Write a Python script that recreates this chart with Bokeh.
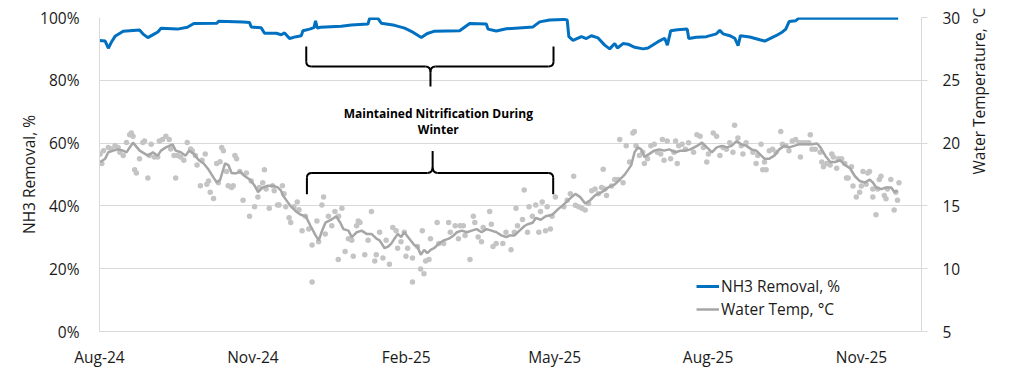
import math
import pandas as pd
from bokeh.plotting import figure
from bokeh.models import (Range1d, LinearAxis, FixedTicker, DatetimeTickFormatter, Legend,
                          LegendItem, BoxAnnotation)
from bokeh.core.properties import value
from bokeh.embed import file_html
from bokeh.resources import INLINE

# ---------------- data ----------------
START_DATE = "2024-08-01"          # day 0 of all day offsets below
X_END_DAY = 493                    # right end of the date axis (days after start)

x_tick_dates = ["2024-08-01", "2024-11-01", "2025-02-01", "2025-05-01", "2025-08-01", "2025-11-01"]
left_ticks = [0, 20, 40, 60, 80, 100]
left_tick_labels = ["0%", "20%", "40%", "60%", "80%", "100%"]
right_ticks = [5, 10, 15, 20, 25, 30]

# NH3 removal, % (days after START_DATE)
blue_days = [0, 3.4, 5.3, 7.3, 9.3, 14.2, 24, 26, 29, 33,
             35, 36.9, 46.7, 52.7, 56.6, 70.4, 71.4, 86, 90, 91,
             97, 99, 106, 109, 111, 114, 118, 121, 122, 126,
             128.6, 129.6, 130.6, 132.5, 145, 151, 161, 162, 167, 169,
             177, 183, 187, 193, 196.6, 200.6, 216, 222, 232, 233,
             238, 244, 260, 264, 270, 278.5, 280.5, 281.5, 284, 289,
             292, 295, 299, 303, 306, 309, 310.6, 314, 317, 321,
             326, 329, 335, 339, 340.6, 342.6, 346.6, 352.5, 353.4, 358,
             364, 370, 372, 374, 378, 381, 383, 384.4, 390, 396,
             399, 405.7, 409.6, 411.6, 413.6, 417.6, 419.5, 479]
blue_pct = [92.7, 92.5, 90.2, 92.3, 94.0, 95.6, 96.0, 94.8, 93.6, 94.8,
            95.4, 96.6, 96.3, 96.9, 98.1, 98.2, 98.8, 98.6, 98.4, 97.0,
            96.7, 95.0, 95.0, 94.5, 95.1, 93.3, 93.9, 94.2, 95.8, 96.3,
            96.8, 98.9, 96.6, 96.9, 97.2, 97.6, 97.9, 99.7, 99.7, 98.2,
            97.5, 96.6, 95.6, 93.6, 94.9, 95.6, 95.8, 98.1, 97.9, 96.3,
            95.7, 96.4, 97.0, 98.6, 99.2, 99.4, 99.2, 93.9, 92.7, 93.9,
            93.3, 94.2, 93.5, 91.2, 90.0, 91.7, 90.3, 91.7, 91.5, 90.5,
            90.0, 90.3, 92.3, 93.4, 91.2, 95.8, 96.1, 96.3, 93.3, 93.7,
            93.9, 94.8, 95.9, 94.8, 94.2, 93.4, 91.0, 94.2, 93.8, 92.9,
            92.5, 94.2, 95.4, 96.3, 98.7, 99.0, 99.8, 99.8]

# Water temperature, moving average (degC)
temp_avg_days = [0.4, 3.4, 5.3, 8.3, 11.2, 14.2, 16.2, 20.1, 24.1, 29,
                 32, 34.9, 36.9, 39.8, 43.8, 45.7, 48.7, 51.7, 53.7, 56.6,
                 59.6, 62.5, 65.5, 68.5, 70.4, 72.4, 75.3, 77.3, 79.3, 82.2,
                 84.2, 87.2, 90.1, 93.1, 95.1, 98, 101, 104, 106.9, 108.9,
                 109.9, 112.8, 114.8, 117.8, 120.7, 123.7, 126.6, 129.6, 131.5, 133.5,
                 135.5, 139, 142, 144.4, 146.3, 149.3, 151.3, 154.3, 157.2, 160.2,
                 163.1, 166.1, 168, 171, 173, 175, 176.9, 178.9, 180.9, 182.8,
                 185.8, 188.8, 190.7, 192.7, 194.7, 196.6, 198.6, 200.6, 203.6, 206.5,
                 209.5, 212.4, 214.4, 217.3, 220.3, 223.3, 226.2, 229.2, 232.1, 235.1,
                 238.1, 241, 244, 246, 248.9, 251.9, 254.9, 256.8, 259.8, 261.7,
                 264.7, 267.6, 271.6, 274.6, 277.5, 281.5, 285.4, 288.3, 291.3, 294.3,
                 297.2, 301.2, 305.1, 309.1, 312, 315, 317, 318.9, 320.9, 322.9,
                 324.9, 326.8, 329.8, 332.7, 335.7, 338.6, 341.6, 345.6, 348.5, 351.5,
                 354.4, 358.4, 361.4, 364.3, 367.3, 370.2, 373.2, 376.2, 379.1, 382.1,
                 385, 388, 391, 393.9, 398.8, 401.8, 404.7, 407.7, 410.7, 413.6,
                 416.6, 419.5, 423.5, 427.4, 430.4, 432.4, 435.3, 438.3, 441.2, 444.2,
                 447.2, 450.1, 453.1, 456, 459, 462, 463.9, 465.9, 468.8, 471.8,
                 474.8, 476.8, 478.7]
temp_avg = [18.5, 18.76, 19.27, 19.4, 19.5, 19.4, 19.27, 20.04, 19.4, 19.0,
            19.27, 19.0, 19.4, 19.66, 19.9, 19.4, 19.27, 19.0, 19.4, 19.14,
            18.63, 18.38, 17.87, 17.23, 16.85, 17.1, 18.38, 18.25, 17.6, 17.6,
            17.74, 17.36, 17.1, 16.6, 16.1, 16.47, 16.6, 16.6, 16.47, 16.22,
            15.85, 15.32, 14.96, 14.56, 14.3, 14.17, 13.4, 12.65, 12.26, 13.03,
            13.66, 13.9, 14.17, 13.66, 13.15, 13.03, 12.52, 12.9, 13.03, 12.77,
            12.77, 12.39, 12.26, 11.63, 11.75, 12.0, 12.39, 12.77, 12.52, 12.9,
            12.39, 11.88, 11.75, 11.11, 11.5, 11.24, 11.5, 11.63, 12.0, 12.26,
            12.39, 12.65, 12.9, 13.03, 12.9, 13.03, 13.15, 12.9, 13.15, 13.03,
            12.9, 12.65, 12.52, 12.65, 12.65, 13.03, 13.4, 13.54, 13.66, 14.04,
            13.9, 14.17, 14.3, 14.69, 15.0, 15.5, 15.96, 15.7, 15.19, 15.45,
            15.83, 16.09, 16.47, 16.72, 17.1, 17.49, 17.87, 18.25, 19.27, 19.66,
            19.5, 18.9, 19.14, 19.4, 19.5, 19.4, 19.5, 19.27, 19.4, 19.4,
            19.5, 19.78, 20.04, 19.66, 19.27, 19.66, 19.78, 19.66, 19.78, 20.16,
            19.9, 19.78, 19.5, 19.4, 18.76, 18.76, 19.0, 19.5, 19.78, 19.66,
            19.78, 19.9, 19.9, 19.9, 19.97, 19.66, 19.0, 18.5, 18.5, 18.63,
            18.25, 18.0, 17.36, 16.98, 16.85, 17.1, 16.85, 16.47, 16.34, 16.47,
            16.47, 16.1, 16.22]

# Water temperature, daily readings (degC)
temp_pt_days = [0.4, 1.4, 2.4, 5.3, 7.3, 9.3, 11.2, 12.2, 14.2, 16.2,
                18.1, 19.1, 20.1, 21.1, 22.1, 24, 26, 27, 29, 30,
                31, 32.9, 34.9, 35.9, 37.8, 39.8, 41.8, 42.7, 44.7, 45.7,
                46.7, 48.7, 50.6, 52.6, 54.6, 55.6, 57.5, 58.5, 60.5, 61.5,
                63.4, 64.4, 65.4, 66.4, 68.4, 70.3, 71.3, 72.3, 73.3, 74.3,
                76.2, 77.2, 79.2, 80.2, 81.2, 82.2, 84.1, 86.1, 88.1, 90,
                91, 93, 95, 95.9, 97.9, 98.9, 99.9, 101.8, 103.8, 104.8,
                106.8, 107.7, 109.7, 110.7, 111.7, 113.7, 114.7, 116.6, 118.6, 119.6,
                121.5, 123.5, 125.5, 127.5, 127.5, 130.4, 131.4, 133.4, 134.4, 135.4,
                137.3, 139.3, 141.2, 143.2, 143.4, 145.4, 147.3, 149.3, 151.3, 152.2,
                154.2, 155.2, 156.2, 159.1, 161.1, 163.1, 165.1, 166, 168, 170,
                171.9, 173.9, 175.9, 177.9, 178.8, 180.8, 182.8, 183.8, 184.8, 187.7,
                187.7, 190.7, 192.6, 193.6, 194.6, 195.6, 197.6, 198.5, 202.5, 203.5,
                206.4, 209.4, 210.4, 213.3, 215.3, 216.3, 218.2, 219.2, 222.2, 224.2,
                225.1, 227.1, 229.1, 230.1, 234, 235, 236, 237.9, 241.9, 243.8,
                246.8, 248.8, 250.7, 249.8, 253.7, 254.7, 256.7, 257.6, 259.6, 261.6,
                263.5, 264.5, 265.5, 267.5, 268.5, 270.4, 271.4, 273.4, 278.5, 280.5,
                282.4, 284.4, 285.4, 287.4, 289.3, 291.3, 293.3, 295.2, 297.2, 299.2,
                301.1, 302.1, 303.1, 304.1, 307.1, 309, 311, 312, 314, 315.9,
                317.9, 319.9, 320.8, 321.8, 323.8, 325.8, 326.8, 328.7, 330.7, 332.7,
                334.6, 336.6, 337.6, 338.6, 340.5, 342.5, 344.5, 345.5, 346.5, 347.4,
                349.4, 351.4, 353.3, 356.3, 358.3, 360.2, 362.2, 364.2, 365.2, 368.1,
                370.1, 372.1, 374, 376, 378, 379.9, 380.9, 382.9, 384.9, 385.9,
                387.8, 391.9, 393.8, 394.8, 396.8, 397.8, 398.8, 399.8, 401.7, 403.7,
                405.7, 408.6, 409.6, 411.6, 413.5, 415.5, 417.5, 419.5, 420.4, 421.4,
                423.4, 425.4, 426.3, 427.3, 429.3, 432.3, 433.2, 434.2, 436.2, 438.2,
                439.2, 440.1, 442.1, 443.1, 445.1, 447, 448, 449, 451, 451.9,
                453.9, 455.9, 456.9, 457.9, 459.8, 460.8, 461.8, 463.8, 463.8, 465.7,
                466.7, 467.7, 468.7, 470.7, 471.7, 472.6, 474.6, 476.6, 477.6, 478.6,
                479.5]
temp_pts = [19.14, 18.38, 19.4, 19.65, 19.53, 19.78, 19.65, 19.27, 19.02, 20.04,
            20.67, 20.8, 20.55, 17.87, 17.62, 18.76, 20.04, 20.16, 17.23, 19.02,
            19.91, 18.89, 18.89, 20.16, 20.29, 20.55, 20.29, 19.53, 19.02, 17.23,
            19.02, 18.89, 18.63, 20.04, 19.53, 19.4, 19.02, 18.25, 16.6, 18.63,
            19.14, 16.72, 16.98, 16.09, 15.58, 18.38, 16.85, 18.51, 19.65, 19.4,
            17.74, 16.6, 16.47, 16.6, 19.02, 18.76, 17.74, 15.45, 17.62, 14.18,
            16.98, 14.94, 15.7, 16.47, 16.85, 17.87, 16.34, 14.81, 16.6, 16.21,
            15.07, 15.07, 16.6, 15.96, 14.94, 14.05, 13.67, 14.94, 15.32, 14.69,
            13.03, 14.18, 13.16, 11.88, 8.95, 13.79, 12.14, 15.07, 15.7, 12.77,
            14.18, 13.41, 14.56, 10.74, 14.18, 14.81, 11.37, 12.39, 12.27, 10.99,
            13.41, 13.79, 13.67, 11.12, 12.27, 14.56, 10.61, 11.12, 12.9, 10.86,
            12.27, 10.35, 13.28, 13.03, 11.63, 12.14, 12.9, 10.99, 11.63, 10.86,
            8.95, 11.76, 9.97, 13.03, 9.59, 10.61, 10.74, 12.39, 13.67, 12.01,
            12.01, 13.67, 12.9, 13.41, 12.39, 13.41, 13.41, 12.65, 10.74, 14.18,
            13.67, 12.52, 12.14, 13.28, 14.56, 13.54, 11.76, 12.01, 12.01, 12.9,
            11.5, 12.9, 13.41, 14.81, 13.92, 16.27, 12.9, 14.94, 14.18, 15.07,
            12.9, 14.56, 15.32, 13.03, 14.94, 13.16, 14.18, 15.7, 14.94, 15.45,
            15.96, 17.36, 15.06, 14.94, 14.81, 14.68, 15.19, 16.21, 16.34, 15.96,
            16.46, 17.92, 16.34, 15.83, 16.59, 17.1, 17.1, 20.29, 16.85, 19.78,
            18.5, 20.8, 20.92, 19.78, 19.01, 19.27, 18.38, 18.76, 19.78, 19.9,
            19.27, 19.14, 20.29, 18.63, 20.16, 18.76, 19.27, 20.16, 18.38, 19.78,
            19.9, 19.52, 20.03, 19.27, 20.67, 20.54, 19.65, 18.5, 19.14, 20.8,
            20.54, 19.01, 19.65, 19.52, 20.03, 19.27, 21.43, 20.41, 19.78, 19.14,
            20.03, 19.27, 18.38, 19.01, 19.9, 17.87, 18.5, 17.87, 19.4, 19.52,
            19.27, 20.92, 19.9, 19.78, 19.4, 20.16, 20.29, 20.03, 18.89, 20.03,
            20.03, 20.03, 20.67, 19.52, 19.52, 19.27, 18.5, 18.12, 18.38, 18.25,
            19.14, 18.89, 17.99, 18.76, 18.76, 18.38, 17.23, 17.23, 18.12, 16.59,
            15.7, 16.08, 16.59, 17.74, 16.72, 17.61, 17.74, 16.34, 15.7, 14.3,
            16.34, 17.1, 17.36, 15.83, 15.57, 16.34, 17.1, 14.68, 16.08, 15.45,
            16.85]

series_labels = ["NH3 Removal, %", "Water Temp, °C"]
left_title = "NH3 Removal, %"
right_title = "Water Temperature, °C"
annotation_lines = ["Maintained Nitrification During", "Winter"]
annotation_day = 203.2
annotation_y = [69.4, 64.2]          # in % (left axis)

# braces: (left day, right day, middle day, end y, bar y, tip y)  in left-axis %
braces = [(124.0, 272.3, 198.5, 90.8, 84.4, 78.0),
          (124.4, 272.1, 199.8, 43.7, 50.5, 57.5)]

# ---------------- helpers ----------------
DAY_MS = 86400000.0
BASE_MS = pd.Timestamp(START_DATE).value / 1e6


def to_ms(days):
    return [BASE_MS + d * DAY_MS for d in days]


BLUE = "#0070C0"
GRAY_LINE = "#A6A6A6"
GRAY_DOT = "#C4C4C4"
GRID = "#D9D9D9"
TXT = "#1A1A1A"
FONT = "Open Sans"
FS = "15.5px"
W, H = 1008, 374

p = figure(width=W, height=H, x_axis_type="datetime",
           x_range=Range1d(BASE_MS, BASE_MS + X_END_DAY * DAY_MS),
           y_range=Range1d(0, 100),
           output_backend="svg", toolbar_location=None,
           min_border_left=99, min_border_right=87, min_border_top=17, min_border_bottom=43)
p.outline_line_color = None
p.extra_y_ranges = {"temp": Range1d(5, 30)}

# outer chart border
p.add_layout(BoxAnnotation(left=1, right=W - 1, top=1, bottom=H - 1,
                           left_units="canvas", right_units="canvas",
                           top_units="canvas", bottom_units="canvas",
                           fill_alpha=0, line_color="#5E5E5E", line_width=2,
                           editable=False))

# grid
p.xgrid.visible = False
p.ygrid.ticker = FixedTicker(ticks=left_ticks)
p.ygrid.grid_line_color = GRID
p.ygrid.grid_line_width = 1

# left axis
la = p.left[0]
la.ticker = FixedTicker(ticks=left_ticks)
la.major_label_overrides = {t: s for t, s in zip(left_ticks, left_tick_labels)}
la.axis_label = left_title
la.axis_label_standoff = -3
la.major_label_standoff = 14
la.major_tick_line_color = None
la.minor_tick_line_color = None
la.axis_line_color = GRID

# bottom axis
ba = p.below[0]
ba.ticker = FixedTicker(ticks=[pd.Timestamp(d).value / 1e6 for d in x_tick_dates])
ba.formatter = DatetimeTickFormatter(days="%b-%y", months="%b-%y", years="%b-%y",
                                     hours="%b-%y", hourmin="%b-%y", minutes="%b-%y",
                                     minsec="%b-%y", seconds="%b-%y", milliseconds="%b-%y",
                                     microseconds="%b-%y")
ba.major_tick_line_color = None
ba.minor_tick_line_color = None
ba.axis_line_color = GRID
ba.major_label_standoff = 8

# right axis
ra = LinearAxis(y_range_name="temp", ticker=FixedTicker(ticks=right_ticks),
                axis_label=right_title)
ra.axis_line_color = GRID
ra.major_tick_line_color = GRID
ra.major_tick_out = 6
ra.major_tick_in = 0
ra.minor_tick_line_color = None
ra.major_label_standoff = 15
ra.axis_label_standoff = 16
ra.axis_label_orientation = math.pi / 2
p.add_layout(ra, "right")

for ax in (la, ba, ra):
    ax.major_label_text_font = FONT
    ax.major_label_text_font_size = FS
    ax.major_label_text_color = TXT
    ax.axis_label_text_font = FONT
    ax.axis_label_text_font_size = FS
    ax.axis_label_text_font_style = "normal"
    ax.axis_label_text_color = TXT

# data
p.scatter(to_ms(temp_pt_days), temp_pts, size=5.5, fill_color=GRAY_DOT, line_color=None,
          y_range_name="temp")
gray_r = p.line(to_ms(temp_avg_days), temp_avg, line_color=GRAY_LINE, line_width=2.5,
                y_range_name="temp")
blue_r = p.line(to_ms(blue_days), blue_pct, line_color=BLUE, line_width=3)

# braces
for (xl, xr, xm, ye, yb, yt) in braces:
    rx = 3.0
    ry_end = 1.5 * (1 if ye > yb else -1)
    ry_mid = 1.8 * (1 if yt > yb else -1)
    segs_x = [[xl, xl], [xl + rx, xm - rx], [xm, xm], [xm + rx, xr - rx], [xr, xr]]
    segs_y = [[ye, yb + ry_end], [yb, yb], [yb + ry_mid, yt], [yb, yb], [yb + ry_end, ye]]
    p.multi_line([to_ms(s) for s in segs_x], segs_y, line_color="black", line_width=2)
    q_x0 = [xl, xm - rx, xm + rx, xr]
    q_y0 = [yb + ry_end, yb, yb, yb + ry_end]
    q_x1 = [xl + rx, xm, xm, xr - rx]
    q_y1 = [yb, yb + ry_mid, yb + ry_mid, yb]
    q_cx = [xl, xm, xm, xr]
    q_cy = [yb, yb, yb, yb]
    p.quadratic(x0=to_ms(q_x0), y0=q_y0, x1=to_ms(q_x1), y1=q_y1,
                cx=to_ms(q_cx), cy=q_cy, line_color="black", line_width=2)

# annotation text
p.text(x=to_ms([annotation_day] * len(annotation_lines)), y=annotation_y, text=annotation_lines,
       text_font=value(FONT), text_font_style="bold", text_font_size="12px",
       text_align="center", text_baseline="middle", text_color="black")

legend = Legend(items=[LegendItem(label=series_labels[0], renderers=[blue_r]),
                       LegendItem(label=series_labels[1], renderers=[gray_r])],
                location=(597, 11), orientation="vertical")
legend.padding = 0
legend.margin = 0
legend.spacing = 1
legend.glyph_width = 23
legend.glyph_height = 20
legend.label_height = 20
legend.label_standoff = 2
legend.label_text_font = FONT
legend.label_text_font_size = FS
legend.label_text_color = TXT
legend.border_line_color = None
legend.background_fill_alpha = 0
p.add_layout(legend)

open("out.html", "w").write(file_html(p, INLINE))
